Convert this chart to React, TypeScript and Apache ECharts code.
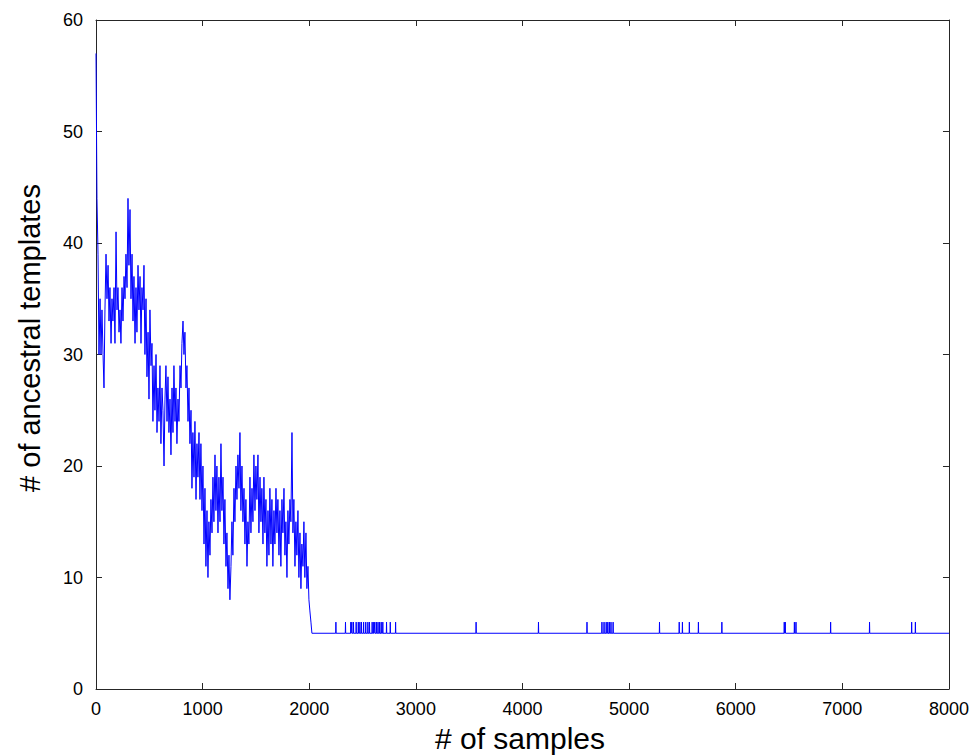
import React, { useEffect, useRef } from "react";
import * as echarts from "echarts";

// One reading per pixel column of the reference for the noisy early phase
const noisyStep = 9.375; // samples between readings
const noisyValues = [
  57, 44, 39, 30, 35, 30, 34, 30, 27, 34, 39, 35, 38, 33, 36, 31, 35, 33, 36, 31,
  41, 34, 36, 32, 34, 31, 36, 33, 37, 35, 39, 36, 44, 38, 43, 35, 39, 33, 37, 31,
  36, 32, 38, 34, 37, 31, 36, 34, 38, 30, 35, 28, 32, 26, 34, 29, 31, 24, 29, 25,
  30, 23, 27, 24, 29, 22, 27, 25, 20, 26, 29, 24, 28, 23, 26, 21, 27, 23, 29, 24,
  27, 22, 26, 24, 29, 27, 31, 33, 30, 32, 27, 29, 24, 27, 22, 25, 18, 23, 19, 24,
  17, 22, 19, 23, 17, 22, 16, 20, 13, 18, 11, 16, 10, 15, 12, 17, 14, 19, 15, 21,
  16, 20, 14, 19, 15, 22, 16, 19, 13, 17, 11, 14, 9, 12, 8, 11, 15, 12, 18, 15,
  20, 17, 21, 18, 23, 16, 20, 15, 18, 13, 17, 11, 15, 13, 19, 14, 18, 15, 21, 16,
  20, 17, 21, 14, 19, 15, 18, 13, 19, 14, 17, 11, 16, 12, 18, 13, 17, 11, 16, 13,
  18, 14, 17, 12, 16, 11, 17, 14, 18, 12, 15, 10, 16, 13, 17, 15, 23, 14, 17, 11,
  15, 12, 16, 10, 14, 9, 13, 11, 15, 10, 14, 9, 11, 8, 7, 6, 5,
];

// Late phase: baseline of 5 with brief excursions to 6
const baselineValue = 5;
const spikeValue = 6;
const spikeSamples = [
  2250, 2340, 2390, 2400, 2415, 2440, 2460, 2475, 2490, 2510, 2530, 2550, 2565,
  2590, 2605, 2615, 2630, 2645, 2660, 2675, 2690, 2725, 2760, 2810, 3565, 4150,
  4605, 4745, 4765, 4785, 4800, 4815, 4830, 4850, 5285, 5470, 5500, 5565, 5650,
  5870, 6455, 6465, 6550, 6565, 6890, 7255, 7650, 7685,
];
const lastSample = 8000;

const xTicks = { min: 0, max: 8000, interval: 1000 };
const yTicks = { min: 0, max: 60, interval: 10 };

const xTitle = "# of samples";
const yTitle = "# of ancestral templates";

export default function App() {
  const ref = useRef<HTMLDivElement>(null);

  useEffect(() => {
    if (!ref.current) return;
    const chart = echarts.init(ref.current, null, { renderer: "svg" });

    const data: [number, number][] = [];
    noisyValues.forEach((v, i) => data.push([Math.round(i * noisyStep), v]));
    spikeSamples.forEach((s) => {
      data.push([s - 2, baselineValue]);
      data.push([s, spikeValue]);
      data.push([s + 2, baselineValue]);
    });
    data.push([lastSample, baselineValue]);

    const font = "Liberation Sans, Arial, sans-serif";
    const axisColor = "#262626";

    const tickCommon = {
      axisLine: { show: true, onZero: false, lineStyle: { color: axisColor, width: 1 } },
      axisTick: { show: true, inside: true, length: 6, lineStyle: { color: axisColor, width: 1 } },
      splitLine: { show: false },
    };
    const plain = (v: number) => String(v);

    chart.setOption({
      animation: false,
      backgroundColor: "#fff",
      grid: { left: 96, right: 23, top: 20, bottom: 67, containLabel: false },
      xAxis: [
        {
          type: "value",
          position: "bottom",
          ...xTicks,
          ...tickCommon,
          axisLabel: { color: "#000", fontSize: 18, fontFamily: font, margin: 11, formatter: plain },
        },
        {
          type: "value",
          position: "top",
          ...xTicks,
          ...tickCommon,
          axisLabel: { show: false },
        },
      ],
      yAxis: [
        {
          type: "value",
          position: "left",
          ...yTicks,
          ...tickCommon,
          axisLabel: { color: "#000", fontSize: 18, fontFamily: font, margin: 13, formatter: plain },
        },
        {
          type: "value",
          position: "right",
          ...yTicks,
          ...tickCommon,
          axisLabel: { show: false },
        },
      ],
      graphic: [
        {
          type: "text",
          x: 520,
          y: 738,
          style: {
            text: xTitle,
            font: `30px ${font}`,
            fill: "#000",
            align: "center",
            verticalAlign: "middle",
          },
        },
        {
          type: "text",
          x: 30,
          y: 338,
          rotation: Math.PI / 2,
          style: {
            text: yTitle,
            font: `29px ${font}`,
            fill: "#000",
            align: "center",
            verticalAlign: "middle",
          },
        },
      ],
      series: [
        {
          type: "line",
          xAxisIndex: 0,
          yAxisIndex: 0,
          data,
          showSymbol: false,
          symbol: "none",
          lineStyle: { color: "#0000ff", width: 1 },
        },
      ],
    });

    return () => chart.dispose();
  }, []);

  return (
    <div
      ref={ref}
      style={{ position: "fixed", left: 0, top: 0, width: 972, height: 756 }}
    />
  );
}
